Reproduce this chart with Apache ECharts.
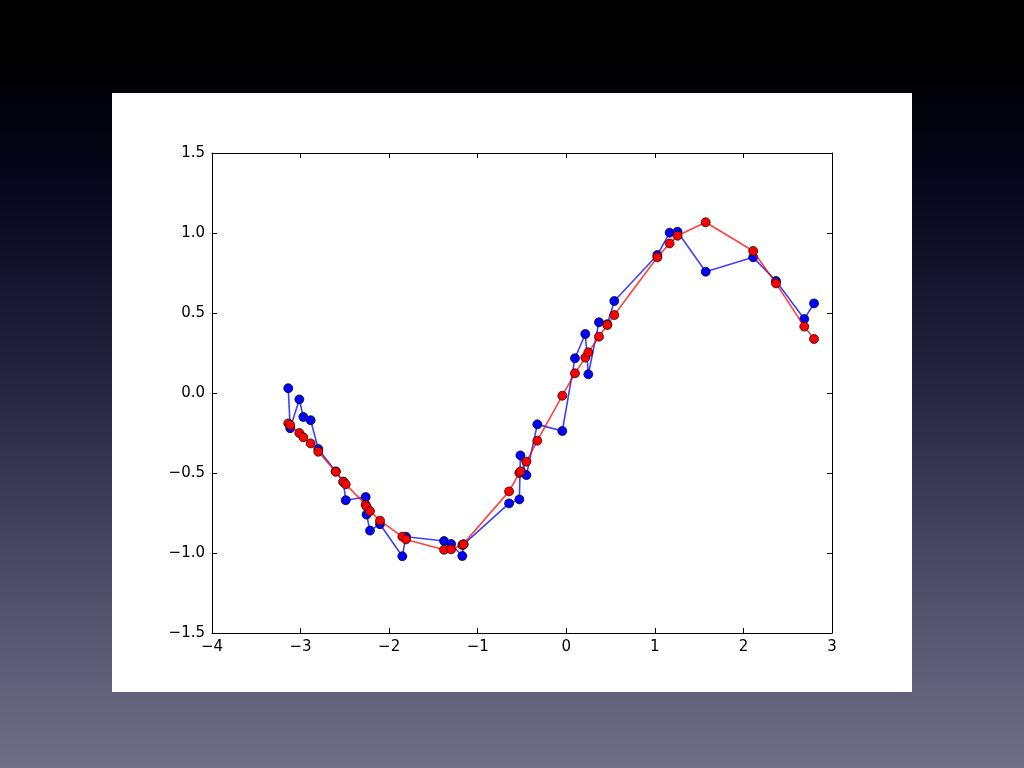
<!DOCTYPE html>
<html>
<head>
<meta charset="utf-8">
<script src="https://cdn.jsdelivr.net/npm/echarts@6/dist/echarts.min.js"></script>
<style>
html,body{margin:0;padding:0;width:1024px;height:768px;overflow:hidden;}
#chart{width:1024px;height:768px;}
</style>
</head>
<body>
<div id="chart"></div>
<script>
var xValues = [-3.139,-3.117,-3.014,-2.969,-2.886,-2.80,-2.603,-2.517,-2.49,-2.265,-2.255,-2.216,-2.103,-1.851,-1.81,-1.38,-1.30,-1.174,-1.16,-0.646,-0.53,-0.518,-0.45,-0.327,-0.045,0.098,0.215,0.249,0.369,0.463,0.542,1.028,1.167,1.256,1.574,2.11,2.368,2.687,2.797];
var blueValues = [0.03,-0.22,-0.04,-0.15,-0.17,-0.35,-0.49,-0.555,-0.67,-0.65,-0.76,-0.86,-0.82,-1.02,-0.898,-0.925,-0.944,-1.019,-0.946,-0.69,-0.665,-0.39,-0.513,-0.196,-0.2375,0.217,0.369,0.117,0.442,0.43,0.575,0.8625,1.002,1.008,0.758,0.848,0.70,0.4625,0.56];
var redValues = [-0.19,-0.20,-0.25,-0.277,-0.315,-0.367,-0.492,-0.554,-0.571,-0.698,-0.71,-0.738,-0.798,-0.898,-0.915,-0.98,-0.977,-0.95,-0.946,-0.615,-0.50,-0.49,-0.429,-0.298,-0.017,0.123,0.221,0.254,0.352,0.425,0.4875,0.848,0.935,0.983,1.067,0.8875,0.685,0.415,0.3375];
var xTicks = [-4,-3,-2,-1,0,1,2,3];
var yTicks = [-1.5,-1.0,-0.5,0.0,0.5,1.0,1.5];

function pairs(ys){ return xValues.map(function(x,i){ return [x, ys[i]]; }); }
function fmtX(v){ return (v < 0 ? '\u2212' + Math.abs(v) : String(v)); }
function fmtY(v){ var s = Math.abs(v).toFixed(1); return v < 0 ? '\u2212' + s : s; }

var chart = echarts.init(document.getElementById('chart'));
var font = {fontFamily:'DejaVu Sans', fontSize:15, color:'#000'};
function xAxisCfg(pos, showLabel){
  return {type:'value', position:pos, min:xTicks[0], max:xTicks[xTicks.length-1], interval:1,
    axisLine:{show:true, onZero:false, lineStyle:{color:'#000', width:1}},
    axisTick:{show:true, inside:true, length:5, lineStyle:{color:'#000'}},
    axisLabel:Object.assign({show:showLabel, margin:7, formatter:fmtX}, font),
    splitLine:{show:false}};
}
function yAxisCfg(pos, showLabel){
  return {type:'value', position:pos, min:yTicks[0], max:yTicks[yTicks.length-1], interval:0.5,
    axisLine:{show:true, onZero:false, lineStyle:{color:'#000', width:1}},
    axisTick:{show:true, inside:true, length:5, lineStyle:{color:'#000'}},
    axisLabel:Object.assign({show:showLabel, margin:7, formatter:fmtY}, font),
    splitLine:{show:false}};
}
chart.setOption({
  backgroundColor:{type:'linear', x:0, y:0, x2:0, y2:1, colorStops:[
    {offset:0, color:'#000000'},{offset:0.08, color:'#000000'},{offset:0.25, color:'#07071f'},
    {offset:0.5, color:'#262541'},{offset:0.75, color:'#4d4c68'},{offset:1, color:'#716f87'}]},
  animation:false,
  graphic:[{type:'rect', z:-10, shape:{x:112, y:93, width:800, height:599}, style:{fill:'#ffffff'}}],
  grid:{left:212, right:192, top:153, bottom:135, containLabel:false},
  xAxis:[xAxisCfg('bottom', true), xAxisCfg('top', false)],
  yAxis:[yAxisCfg('left', true), yAxisCfg('right', false)],
  series:[
    {type:'line', data:pairs(blueValues), symbol:'circle', symbolSize:9,
     lineStyle:{color:'rgba(0,0,255,0.75)', width:1.6},
     itemStyle:{color:'#0000ff', borderColor:'#000', borderWidth:0.7}, z:2},
    {type:'line', data:pairs(redValues), symbol:'circle', symbolSize:9,
     lineStyle:{color:'rgba(255,0,0,0.75)', width:1.6},
     itemStyle:{color:'#ff0000', borderColor:'#000', borderWidth:0.7}, z:3}
  ]
});
</script>
</body>
</html>
